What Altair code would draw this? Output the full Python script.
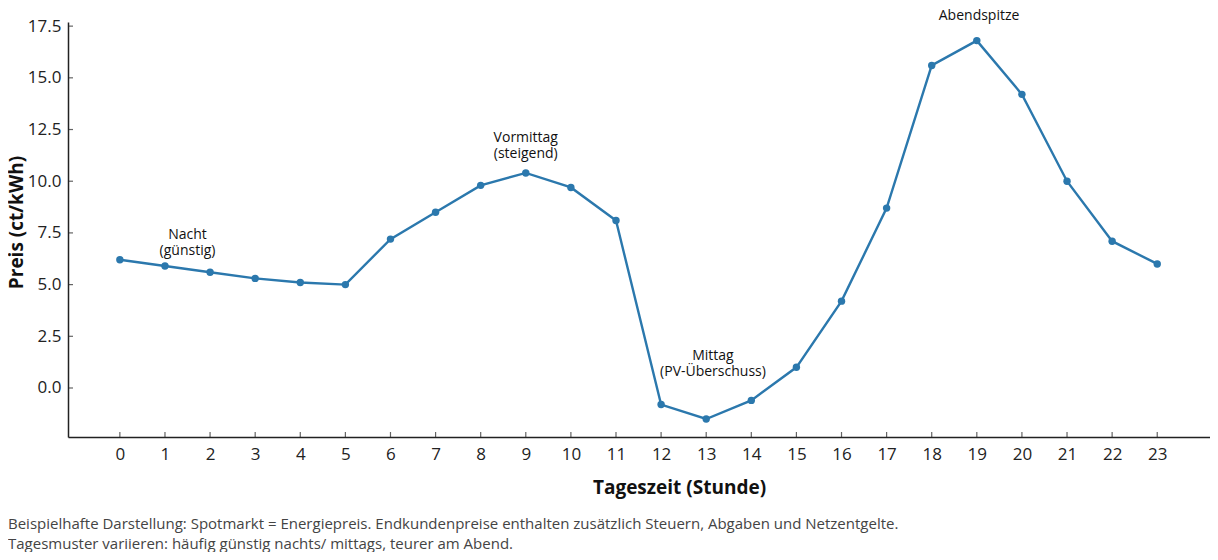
import altair as alt
import pandas as pd

hours = list(range(24))
prices = [6.2, 5.9, 5.6, 5.3, 5.1, 5.0, 7.2, 8.5, 9.8, 10.4, 9.7, 8.1,
          -0.8, -1.5, -0.6, 1.0, 4.2, 8.7, 15.6, 16.8, 14.2, 10.0, 7.1, 6.0]
y_ticks = [0.0, 2.5, 5.0, 7.5, 10.0, 12.5, 15.0, 17.5]
ann_text = ["Nacht\n(günstig)", "Vormittag\n(steigend)", "Mittag\n(PV-Überschuss)", "Abendspitze"]
ann_x = [1.5, 9.0, 13.15, 19.05]
ann_y = [7.4, 12.1, 1.55, 17.98]
footnote = ["Beispielhafte Darstellung: Spotmarkt = Energiepreis. Endkundenpreise enthalten zusätzlich Steuern, Abgaben und Netzentgelte.",
            "Tagesmuster variieren: häufig günstig nachts/ mittags, teurer am Abend."]

X_DOM = [-1.15, 24.17]
Y_DOM = [-2.37, 17.7]
FONT = "Open Sans"
COLOR = "#2b78ad"

df = pd.DataFrame({"h": hours, "p": prices})
ann = pd.DataFrame({"h": ann_x, "p": ann_y, "t": ann_text})
xt = pd.DataFrame({"h": hours, "p": [Y_DOM[0]] * 24})
yt = pd.DataFrame({"h": [X_DOM[0]] * len(y_ticks), "p": y_ticks})

xs = alt.Scale(domain=X_DOM, nice=False, zero=False)
ys = alt.Scale(domain=Y_DOM, nice=False, zero=False)

xaxis = alt.Axis(values=hours, title="Tageszeit (Stunde)", grid=False, tickSize=0,
                 labelPadding=9, labelFontSize=17, labelFont=FONT, labelColor="#222",
                 titleFont=FONT, titleFontSize=19, titleFontWeight="bold", titleColor="#111",
                 titleX=611, titleY=56, titleBaseline="alphabetic",
                 domainColor="#222", domainWidth=1.5, labelFlush=False)
yaxis = alt.Axis(values=y_ticks, format=".1f", title="Preis (ct/kWh)", grid=False, tickSize=0,
                 labelPadding=7, labelFontSize=17, labelFont=FONT, labelColor="#222",
                 titleFont=FONT, titleFontSize=19, titleFontWeight="bold", titleColor="#111",
                 titleAngle=-90, titleX=-46, titleY=200, titleAlign="center", titleBaseline="alphabetic",
                 domainColor="#222", domainWidth=1.5, labelFlush=False)

base = alt.Chart(df).encode(
    x=alt.X("h:Q", scale=xs, axis=xaxis),
    y=alt.Y("p:Q", scale=ys, axis=yaxis),
)
line = base.mark_line(color=COLOR, strokeWidth=2.4)
pts = base.mark_circle(color=COLOR, size=55, opacity=1)

xticks = alt.Chart(xt).mark_tick(color="#222", orient="vertical", size=5, thickness=1.2, yOffset=-2.5).encode(
    x=alt.X("h:Q", scale=xs), y=alt.Y("p:Q", scale=ys))
yticks = alt.Chart(yt).mark_tick(color="#222", orient="horizontal", size=5, thickness=1.2, xOffset=2.5).encode(
    x=alt.X("h:Q", scale=xs), y=alt.Y("p:Q", scale=ys))

texts = alt.Chart(ann).mark_text(font=FONT, fontSize=14, color="#111", lineBreak="\n",
                                 lineHeight=16, baseline="middle", align="center", clip=False).encode(
    x=alt.X("h:Q", scale=xs), y=alt.Y("p:Q", scale=ys), text="t:N")

chart = alt.layer(line, pts, xticks, yticks, texts).properties(
    width=1142, height=415,
    autosize=alt.AutoSizeParams(type="none"),
    padding={"left": 60, "top": 14, "right": 0, "bottom": 115},
    title=alt.TitleParams(text=footnote, orient="bottom", anchor="start", frame="group",
                          dx=-60, offset=20, font=FONT, fontSize=15, fontWeight="normal",
                          color="#444", lineHeight=20, baseline="top"),
).configure(background="white").configure_view(stroke=None)

chart.save("out.html", embed_options={"renderer": "svg", "actions": False})
